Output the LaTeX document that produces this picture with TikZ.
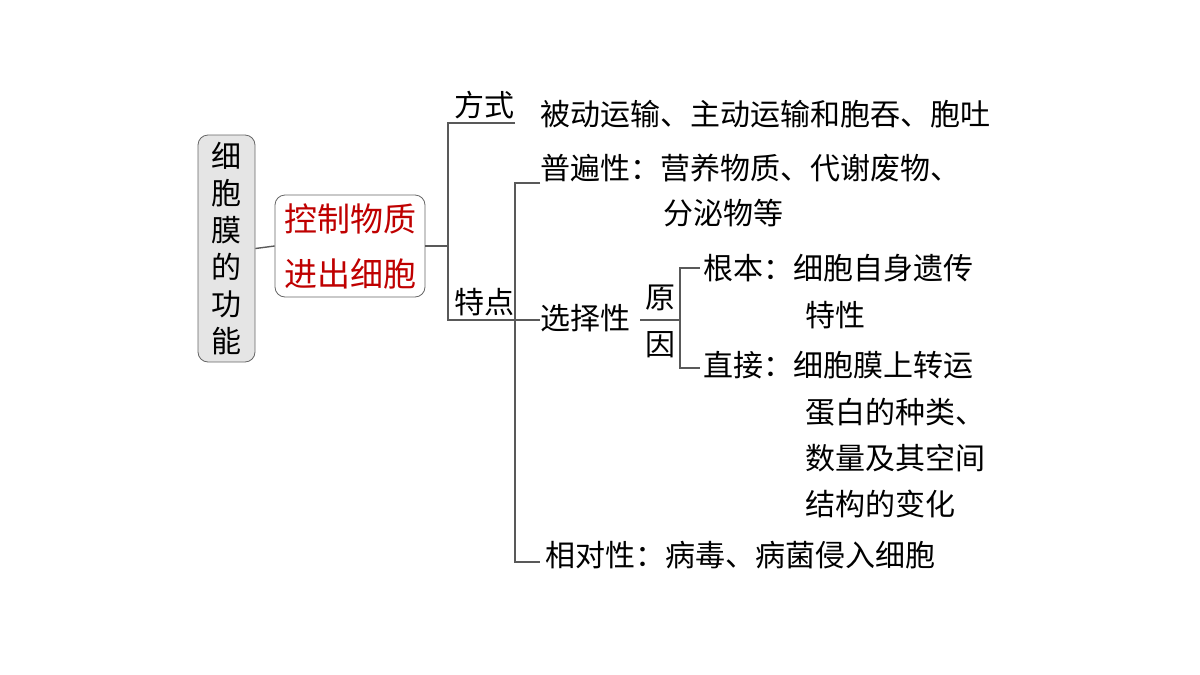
\documentclass[tikz,border=0pt]{standalone}
\usepackage{fontspec}
\newfontfamily\cjk{Noto Sans CJK SC}
\begin{document}
\begin{tikzpicture}[x=0.5pt,y=-0.5pt,
  t/.style={anchor=west,inner sep=0pt,font=\cjk\fontsize{15}{17}\selectfont},
  ln/.style={draw=black!65,line width=0.7pt}]
\useasboundingbox (0,0) rectangle (1200,675);
\node[draw=black!60,fill=black!10,rounded corners=5pt,minimum width=28.5pt,minimum height=113.5pt,inner sep=0pt,
  font=\cjk\fontsize{15}{18.5}\selectfont,align=center] (g) at (226.5,248.5) {细\\胞\\膜\\的\\功\\能};
\node[draw=black!60,rounded corners=5pt,minimum width=75pt,minimum height=51pt,inner sep=0pt,
  font=\cjk\fontsize{16.5}{27.5}\selectfont,align=center,text=red!75!black] (r) at (350,246) {控制物质\\进出细胞};
\draw[ln] (g.east) -- (r.west);
\coordinate (a0) at (448,246);
\coordinate (a1) at (448,123); \coordinate (a2) at (448,320);
\draw[ln] (r.east) -- (a0);
\draw[ln] (515,123) -- (a1) -- (a2) -- (540,320);
\node[t] (fs) at (454,105) {方式};
\node[t] (td) at (454,302) {特点};
\node[t] (m1) at (540,114) {被动运输、主动运输和胞吞、胞吐};
\draw[ln] (540,183) -- (515,183) -- (515,562) -- (540,562);
\node[t] (p1) at (540,168) {普遍性：营养物质、代谢废物、};
\node[t] (p2) at (663,213) {分泌物等};
\node[t] (x1) at (540,318) {选择性};
\node[t] (y1) at (645,298) {原};
\node[t] (y2) at (645,345) {因};
\draw[ln] (640,320) -- (680,320);
\draw[ln] (700,268) -- (680,268) -- (680,368) -- (700,368);
\node[t] (k1) at (703,268) {根本：细胞自身遗传};
\node[t] (k2) at (805,315) {特性};
\node[t] (z1) at (703,365) {直接：细胞膜上转运};
\node[t] (z2) at (805,412) {蛋白的种类、};
\node[t] (z3) at (805,458) {数量及其空间};
\node[t] (z4) at (805,504) {结构的变化};
\node[t] (q1) at (545,555) {相对性：病毒、病菌侵入细胞};
\end{tikzpicture}
\end{document}
